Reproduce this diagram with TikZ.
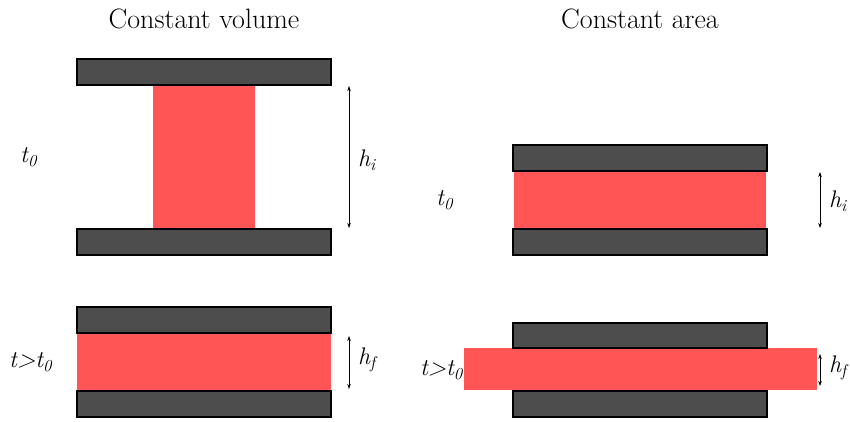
\documentclass[tikz,border=0pt]{standalone}
\usepackage{fontspec}
\usetikzlibrary{arrows.meta}
\definecolor{plategray}{RGB}{77,77,77}
\definecolor{samplered}{RGB}{255,85,85}
\tikzset{
  plate/.style={draw=black, line width=1.5pt, fill=plategray, inner sep=0pt, outer sep=0pt, anchor=north west},
  sample/.style={draw=none, fill=samplered, inner sep=0pt, outer sep=0pt, anchor=north west},
  dim/.style={line width=0.6pt, {Stealth[length=5pt,width=3.5pt]}-{Stealth[length=5pt,width=3.5pt]}},
  title/.style={font=\fontsize{28}{32}\selectfont, inner sep=0pt},
  lbl/.style={font=\fontsize{24}{28}\selectfont\itshape, inner sep=0pt}
}
\newcommand{\tsub}[1]{\textit{#1}\textsubscript{\textit{0}}}
\begin{document}
\begin{tikzpicture}[x=1pt,y=-1pt]
\useasboundingbox (0,0) rectangle (850,421);
% titles
\node[title] (tv) at (204,19) {Constant volume};
\node[title] (ta) at (640,19) {Constant area};
% ---- left column, t0
\node[sample, minimum width=102pt, minimum height=143pt] (r1) at (153,85) {};
\node[plate, minimum width=254pt, minimum height=26pt] (p1a) at (77,59) {};
\node[plate, minimum width=254pt, minimum height=26pt] (p1b) at (77,229) {};
\coordinate (a1t) at (349,86);
\coordinate (a1b) at (349,228);
\draw[dim] (a1t) -- (a1b);
\node[lbl, anchor=west] (t1) at (20,157) {\tsub{t}};
\node[lbl, anchor=west] (h1) at (358,160) {h\textsubscript{\textit{i}}};
% ---- left column, t>t0
\node[sample, minimum width=254pt, minimum height=58pt] (r2) at (77,333) {};
\node[plate, minimum width=254pt, minimum height=26pt] (p2a) at (77,307) {};
\node[plate, minimum width=254pt, minimum height=26pt] (p2b) at (77,391) {};
\coordinate (a2t) at (349,336);
\coordinate (a2b) at (349,389);
\draw[dim] (a2t) -- (a2b);
\node[lbl, anchor=west] (t2) at (9,362) {t>\tsub{t}};
\node[lbl, anchor=west] (h2) at (358,360) {h\textsubscript{\textit{f}}};
% ---- right column, t0
\node[sample, minimum width=252pt, minimum height=58pt] (r3) at (514,171) {};
\node[plate, minimum width=254pt, minimum height=26pt] (p3a) at (513,145) {};
\node[plate, minimum width=254pt, minimum height=26pt] (p3b) at (513,229) {};
\coordinate (a3t) at (820,172);
\coordinate (a3b) at (820,228);
\draw[dim] (a3t) -- (a3b);
\node[lbl, anchor=west] (t3) at (436,200) {\tsub{t}};
\node[lbl, anchor=west] (h3) at (829,201) {h\textsubscript{\textit{i}}};
% ---- right column, t>t0
\node[sample, minimum width=353pt, minimum height=42pt] (r4) at (464,348) {};
\node[plate, minimum width=254pt, minimum height=25pt] (p4a) at (513,323) {};
\node[plate, minimum width=254pt, minimum height=26pt] (p4b) at (513,391) {};
\coordinate (a4t) at (820,354);
\coordinate (a4b) at (820,386);
\draw[dim] (a4t) -- (a4b);
\node[lbl, anchor=east] (t4) at (463,370) {t>\tsub{t}};
\node[lbl, anchor=west] (h4) at (829,368) {h\textsubscript{\textit{f}}};
\end{tikzpicture}
\end{document}
